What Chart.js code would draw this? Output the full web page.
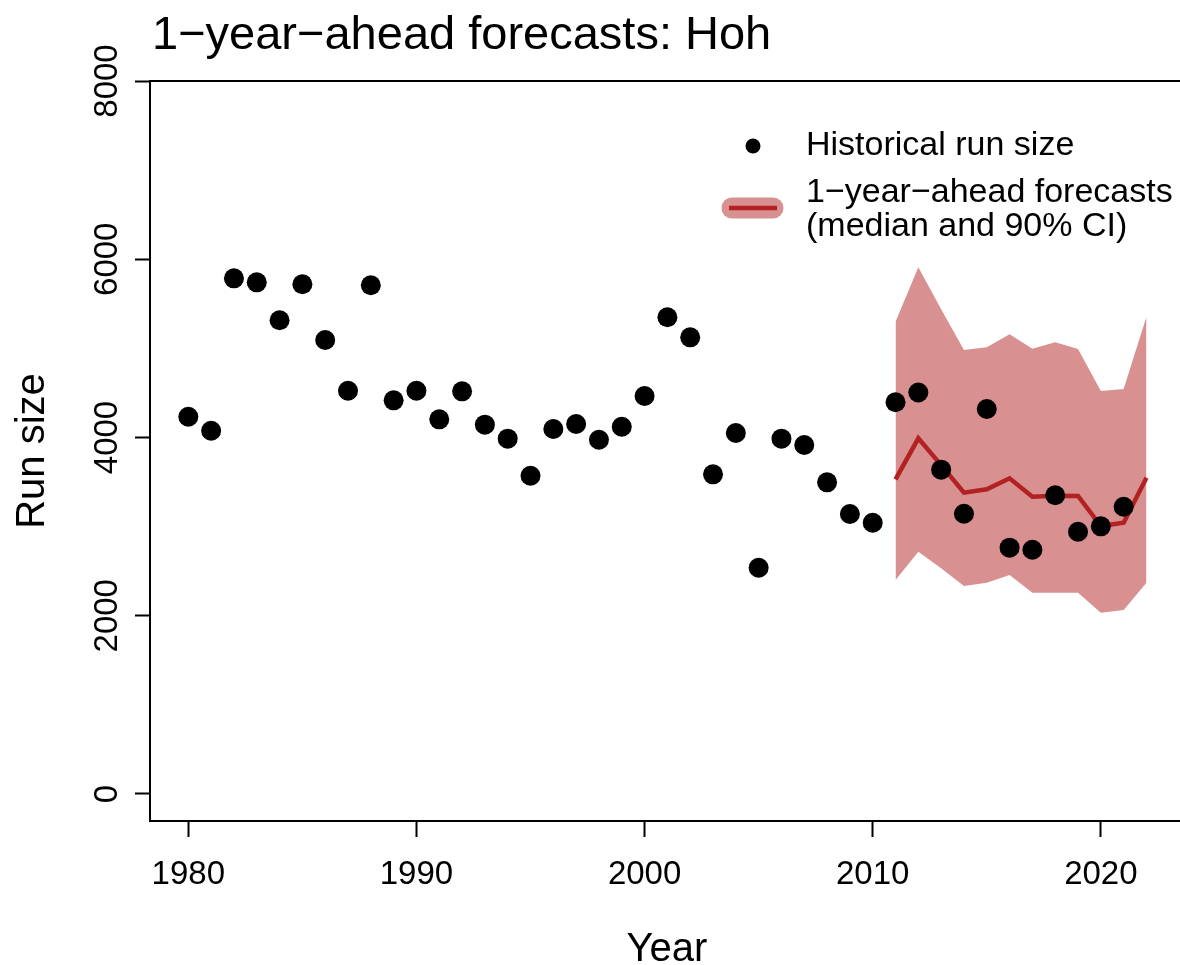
<!DOCTYPE html>
<html>
<head>
<meta charset="utf-8">
<title>1-year-ahead forecasts: Hoh</title>
<script src="https://cdn.jsdelivr.net/npm/chart.js@4.4.1/dist/chart.umd.min.js"></script>
<style>
  html, body { margin: 0; padding: 0; background: #fff; }
  #wrap { width: 1180px; height: 965px; position: relative; }
</style>
</head>
<body>
<div id="wrap"><canvas id="forecast-chart"></canvas></div>
<script>
// Datos
const years = [1980, 1981, 1982, 1983, 1984, 1985, 1986, 1987, 1988, 1989,
               1990, 1991, 1992, 1993, 1994, 1995, 1996, 1997, 1998, 1999,
               2000, 2001, 2002, 2003, 2004, 2005, 2006, 2007, 2008, 2009,
               2010, 2011, 2012, 2013, 2014, 2015, 2016, 2017, 2018, 2019,
               2020, 2021];
const runSize = [4233, 4076, 5786, 5741, 5315, 5719, 5094, 4525, 5708, 4417,
                 4525, 4204, 4518, 4144, 3987, 3571, 4095, 4151, 3975, 4121,
                 4466, 5349, 5124, 3587, 4050, 2539, 3987, 3916, 3497, 3142,
                 3044, 4395, 4505, 3639, 3145, 4320, 2764, 2741, 3352, 2943,
                 3003, 3223];

const fcYears = [2011, 2012, 2013, 2014, 2015, 2016, 2017, 2018, 2019, 2020, 2021, 2022];
const fcMedian = [3531, 3991, 3690, 3381, 3419, 3542, 3336, 3347, 3344, 3007, 3044, 3549];
const fcLower = [2401, 2719, 2532, 2334, 2371, 2457, 2259, 2259, 2259, 2034, 2064, 2371];
const fcUpper = [5300, 5910, 5438, 4982, 5012, 5158, 4997, 5068, 4993, 4522, 4544, 5356];

const xTicks = [1980, 1990, 2000, 2010, 2020];
const yTicks = [0, 2000, 4000, 6000, 8000];

const FONT = "'Liberation Sans', Arial, sans-serif";
const RED = '#b22222';
const BAND = 'rgba(178, 34, 34, 0.5)';

function toPoints(xs, ys) {
    return xs.map((x, i) => ({x: x, y: ys[i]}));
}

// Título, etiquetas de ejes, leyenda y marco superior (estilo R)
const extrasPlugin = {
    id: 'extras',
    afterDraw(chart) {
        const ctx = chart.ctx;
        const area = chart.chartArea;
        const yScale = chart.scales.y;
        ctx.save();

        // línea superior del marco
        ctx.strokeStyle = '#000';
        ctx.lineWidth = 2;
        ctx.beginPath();
        ctx.moveTo(area.left, area.top);
        ctx.lineTo(area.right, area.top);
        ctx.stroke();

        ctx.fillStyle = '#000';

        // título
        ctx.font = '47px ' + FONT;
        ctx.textAlign = 'left';
        ctx.textBaseline = 'alphabetic';
        ctx.fillText('1\u2212year\u2212ahead forecasts: Hoh', 152, 49);

        // etiquetas del eje y (rotadas)
        ctx.font = '33px ' + FONT;
        yTicks.forEach(v => {
            const py = yScale.getPixelForValue(v);
            ctx.save();
            ctx.translate(117, py);
            ctx.rotate(-Math.PI / 2);
            ctx.textAlign = 'center';
            ctx.fillText(String(v), 0, 0);
            ctx.restore();
        });

        // títulos de ejes
        ctx.font = '40px ' + FONT;
        ctx.textAlign = 'center';
        ctx.fillText('Year', 667, 961);
        ctx.save();
        ctx.translate(44, (area.top + area.bottom) / 2);
        ctx.rotate(-Math.PI / 2);
        ctx.fillText('Run size', 0, 0);
        ctx.restore();

        // leyenda
        ctx.beginPath();
        ctx.arc(753, 146, 7.5, 0, Math.PI * 2);
        ctx.fill();

        ctx.lineCap = 'round';
        ctx.strokeStyle = BAND;
        ctx.lineWidth = 21;
        ctx.beginPath();
        ctx.moveTo(732, 208);
        ctx.lineTo(773, 208);
        ctx.stroke();
        ctx.strokeStyle = RED;
        ctx.lineWidth = 4.5;
        ctx.lineCap = 'butt';
        ctx.beginPath();
        ctx.moveTo(729, 208);
        ctx.lineTo(777, 208);
        ctx.stroke();

        ctx.font = '34px ' + FONT;
        ctx.textAlign = 'left';
        ctx.textBaseline = 'middle';
        ctx.fillText('Historical run size', 806, 146);
        ctx.fillText('1\u2212year\u2212ahead forecasts', 806, 193);
        ctx.fillText('(median and 90% CI)', 806, 227);

        ctx.restore();
    }
};

const ctx = document.getElementById('forecast-chart').getContext('2d');
new Chart(ctx, {
    type: 'line',
    data: {
        datasets: [
            {
                label: 'Historical run size',
                data: toPoints(years, runSize),
                showLine: false,
                pointRadius: 10,
                pointHoverRadius: 10,
                pointBackgroundColor: '#000',
                pointBorderWidth: 0,
                order: 0
            },
            {
                label: 'Median',
                data: toPoints(fcYears, fcMedian),
                borderColor: RED,
                borderWidth: 4.5,
                pointRadius: 0,
                fill: false,
                tension: 0,
                order: 1
            },
            {
                label: 'Lower 90%',
                data: toPoints(fcYears, fcLower),
                borderWidth: 0,
                borderColor: 'rgba(0,0,0,0)',
                pointRadius: 0,
                fill: false,
                order: 3
            },
            {
                label: 'Upper 90%',
                data: toPoints(fcYears, fcUpper),
                borderWidth: 0,
                borderColor: 'rgba(0,0,0,0)',
                backgroundColor: BAND,
                pointRadius: 0,
                fill: '-1',
                order: 2
            }
        ]
    },
    options: {
        responsive: true,
        maintainAspectRatio: false,
        animation: false,
        layout: { autoPadding: false, padding: { top: 81, right: 0, left: 0, bottom: 0 } },
        plugins: {
            legend: { display: false },
            title: { display: false },
            tooltip: { enabled: false }
        },
        scales: {
            x: {
                type: 'linear',
                min: 1978.32,
                max: 2023.47,
                afterBuildTicks: s => { s.ticks = xTicks.map(v => ({value: v})); },
                afterFit: s => { s.height = 144; s.paddingLeft = 0; s.paddingRight = 0; },
                border: { display: true, color: '#000', width: 2 },
                grid: { display: true, drawOnChartArea: false, drawTicks: true, tickLength: 16, tickColor: '#000', tickWidth: 2 },
                ticks: {
                    color: '#000',
                    font: { family: FONT, size: 33 },
                    padding: 18,
                    maxRotation: 0,
                    callback: v => String(v)
                }
            },
            y: {
                type: 'linear',
                min: -303,
                max: 8000,
                afterBuildTicks: s => { s.ticks = yTicks.map(v => ({value: v})); },
                afterFit: s => { s.width = 150; s.paddingTop = 0; s.paddingBottom = 0; },
                border: { display: true, color: '#000', width: 2 },
                grid: { display: true, drawOnChartArea: false, drawTicks: true, tickLength: 15, tickColor: '#000', tickWidth: 2 },
                ticks: { display: false }
            }
        }
    },
    plugins: [extrasPlugin]
});
</script>
</body>
</html>
